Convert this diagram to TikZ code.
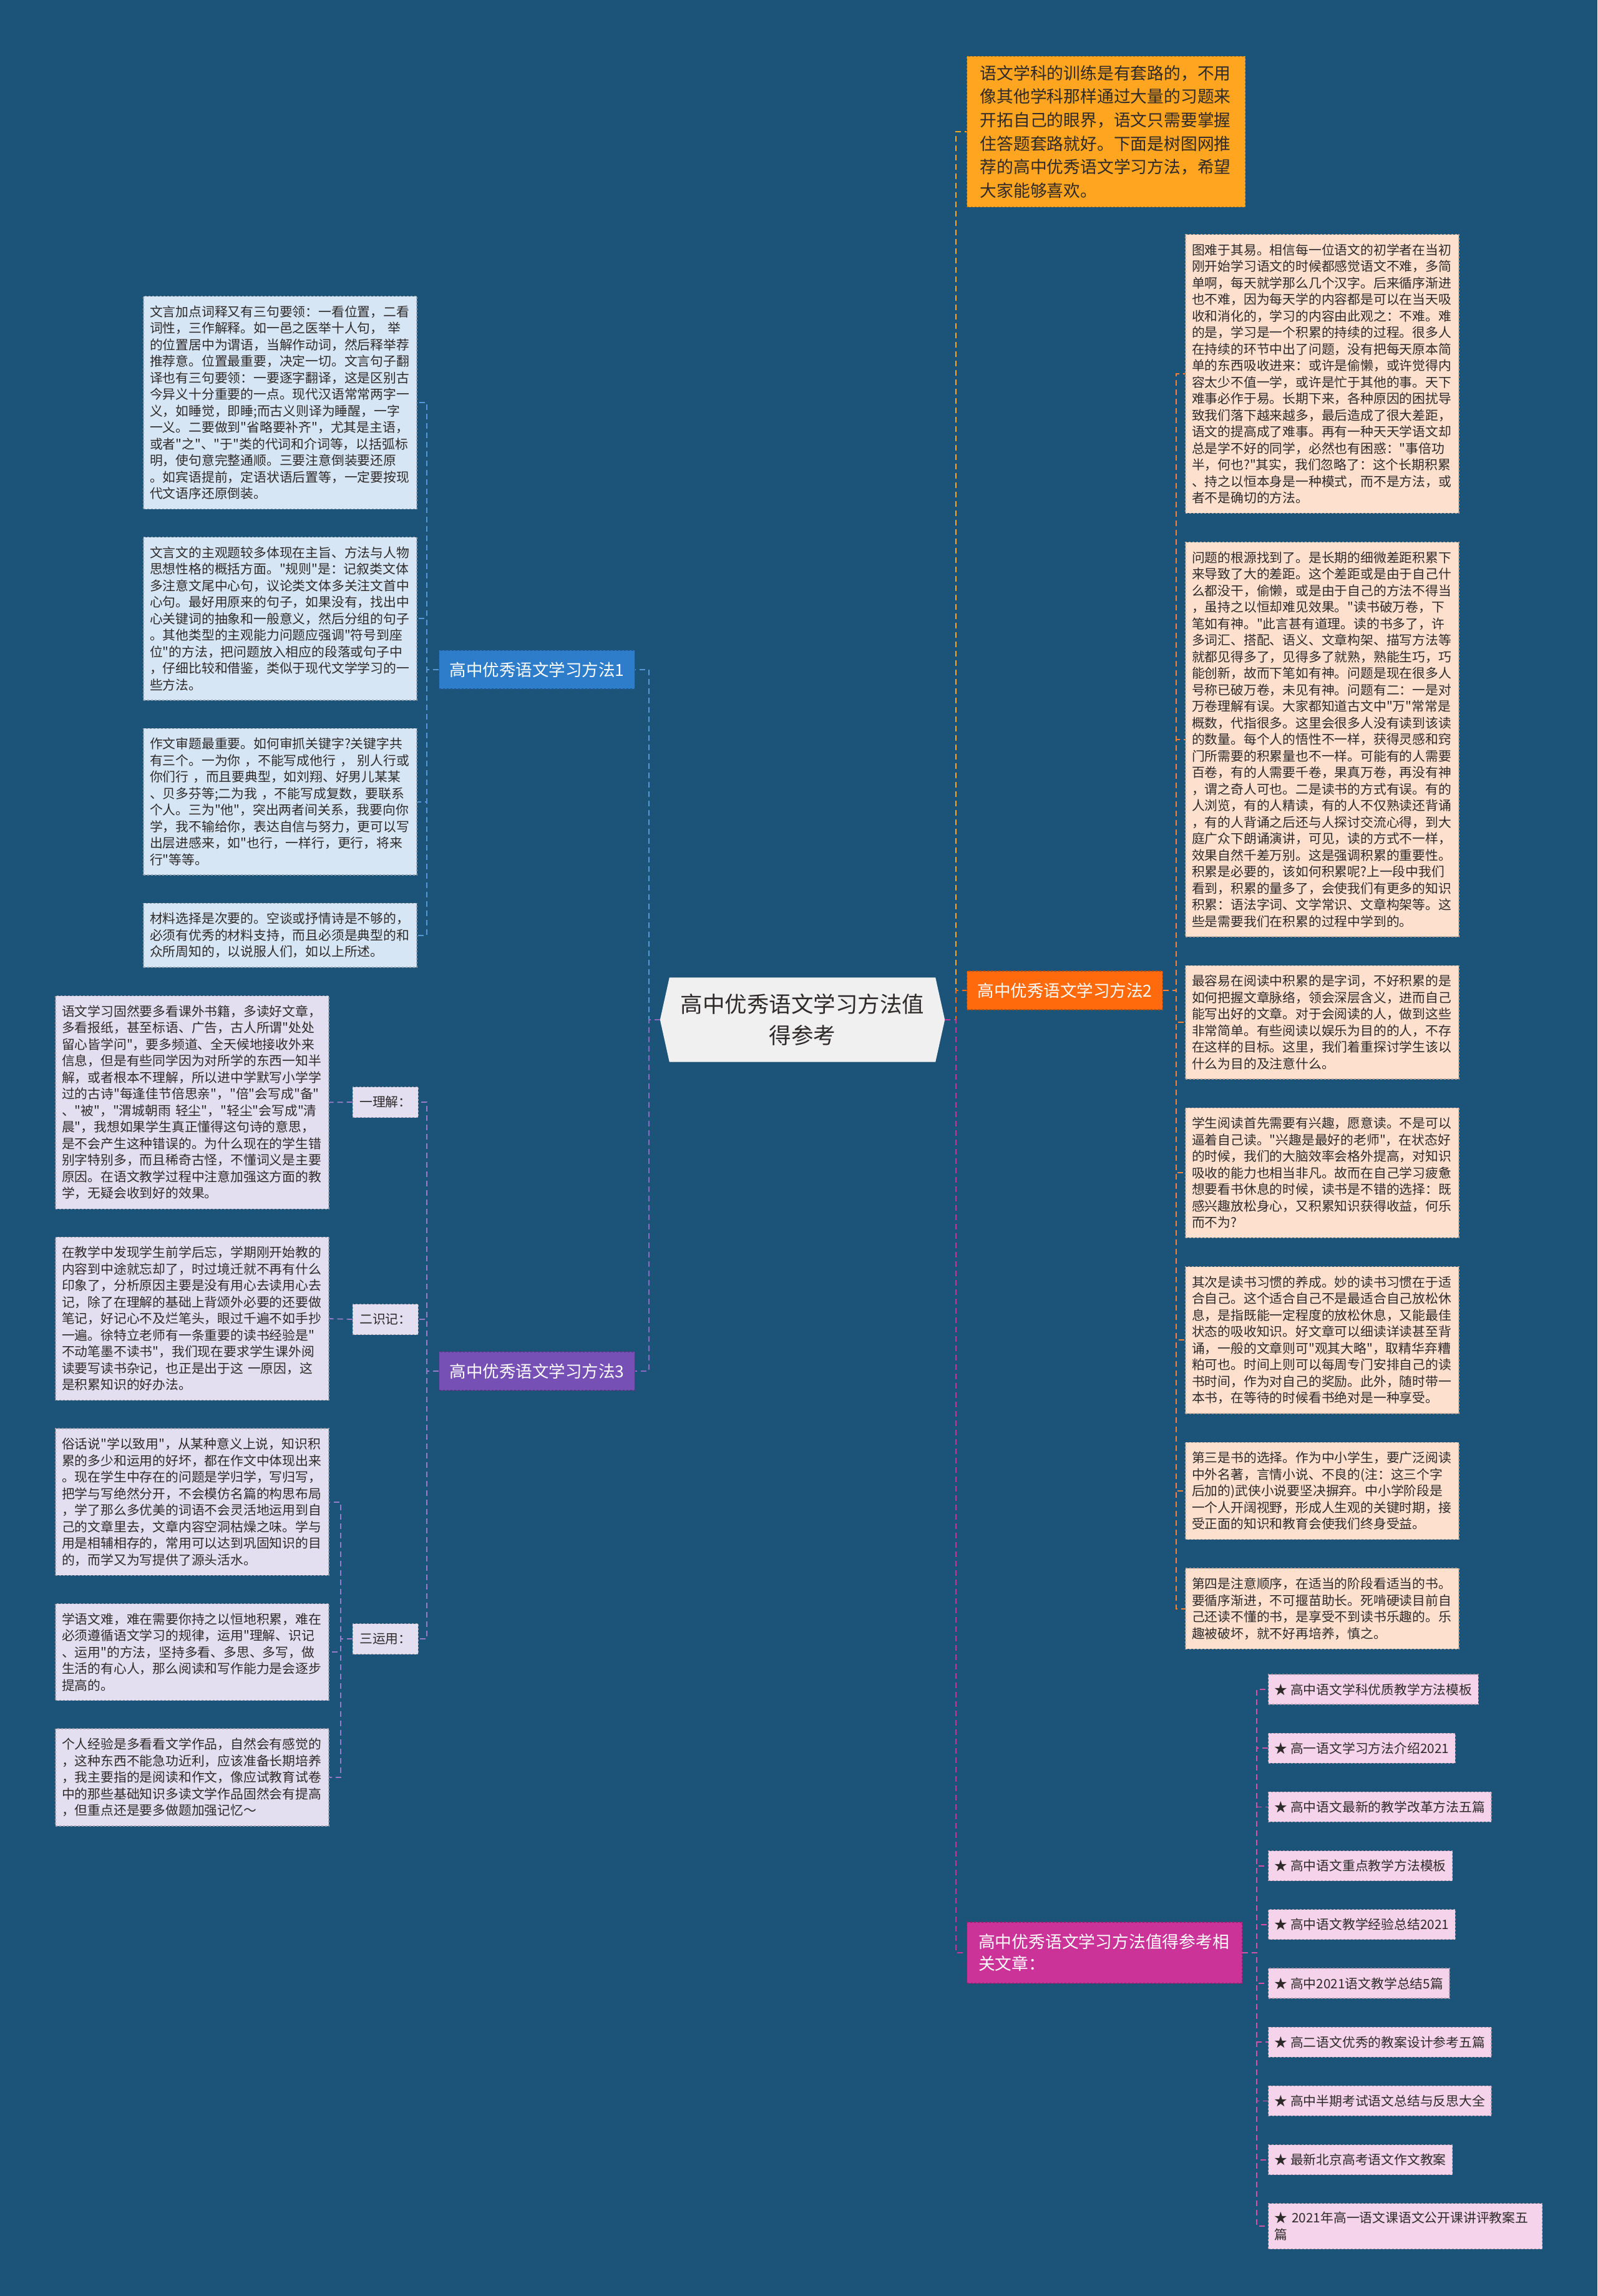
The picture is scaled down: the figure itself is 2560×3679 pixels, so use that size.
\documentclass[tikz,border=0pt]{standalone}
\usepackage{fontspec}
\newfontfamily\cjk{Noto Sans CJK SC}
\usepackage{xcolor}
\usetikzlibrary{positioning, backgrounds}
\definecolor{canvas}{HTML}{1B5478}
\definecolor{rootfill}{HTML}{F0F0F0}
\definecolor{introfill}{HTML}{FFA51F}
\definecolor{wayonefill}{HTML}{2E7DCB}
\definecolor{waytwofill}{HTML}{FF6A0D}
\definecolor{waythreefill}{HTML}{7750B5}
\definecolor{relfill}{HTML}{CC3399}
\definecolor{peachfill}{HTML}{FDE0CE}
\definecolor{bluefill}{HTML}{D7E6F4}
\definecolor{lilacfill}{HTML}{E3DFF0}
\definecolor{pinkfill}{HTML}{F5D3EA}
\definecolor{inkdark}{HTML}{2E2A2A}
\tikzset{
  note/.style={rectangle, dashed, line width=1.2pt, text width=418pt, align=left,
               inner xsep=10pt, inner ysep=15pt, text=inkdark,
               font=\cjk\fontsize{20.8}{26.5}\selectfont},
  peachnote/.style={note, fill=peachfill, draw=peachfill!75!black},
  bluenote/.style={note, fill=bluefill, draw=bluefill!70!black},
  lilacnote/.style={note, fill=lilacfill, draw=lilacfill!70!black},
  tagbox/.style={rectangle, dashed, line width=1.2pt, fill=lilacfill, draw=lilacfill!70!black,
                 inner xsep=11pt, minimum height=49pt, text=inkdark,
                 font=\cjk\fontsize{20.8}{26.5}\selectfont},
  relitem/.style={rectangle, dashed, line width=1.2pt, fill=pinkfill, draw=pinkfill!70!black,
                  inner xsep=10pt, inner ysep=13.5pt, minimum height=48pt, text=inkdark,
                  font=\cjk\fontsize{20.8}{26.5}\selectfont},
  branch/.style={rectangle, dashed, line width=1.2pt, text=white, inner xsep=17pt,
                 minimum height=62pt, font=\cjk\fontsize{26.5}{32}\selectfont},
  rootbox/.style={rectangle, align=center, minimum width=426pt, minimum height=135pt,
                  inner sep=0pt, text=inkdark, font=\cjk\fontsize{35.5}{50}\selectfont},
  introbox/.style={rectangle, dashed, line width=1.2pt, fill=introfill, draw=introfill!70!black,
                   text width=404pt, align=left, inner xsep=21pt, inner ysep=14pt,
                   text=inkdark, font=\cjk\fontsize{26.8}{37.7}\selectfont},
  branchline/.style={dashed, dash pattern=on 9pt off 6pt, line width=2.5pt},
}

\begin{document}
\begin{tikzpicture}[x=1pt, y=-1pt]
  \useasboundingbox (0,0) rectangle (2560,3679);

  %% ---- ROOT ----
  \node[rootbox] (root) at (1286,1634) {高中优秀语文学习方法值\\得参考};
  \coordinate (rootleft) at ([xshift=-15pt]root.west);
  \coordinate (rootright) at ([xshift=15pt]root.east);

  %% ---- RIGHT SIDE ----
  \node[introbox, anchor=west] (intro) at (1549,211) {语文学科的训练是有套路的，不用\\像其他学科那样通过大量的习题来\\开拓自己的眼界，语文只需要掌握\\住答题套路就好。下面是树图网推\\荐的高中优秀语文学习方法，希望\\大家能够喜欢。};
  \node[branch, fill=waytwofill, draw=waytwofill!70!black, anchor=west] (way2) at (1549,1587) {高中优秀语文学习方法2};
  \node[branch, fill=relfill, draw=relfill!70!black, anchor=west, text width=404pt, align=left,
        inner xsep=18.5pt, minimum height=98pt, font=\cjk\fontsize{26.8}{35}\selectfont] (related) at (1549,3129) {高中优秀语文学习方法值得参考相\\关文章：};

  \node[peachnote, anchor=north] (w2a) at (2119,375) {图难于其易。相信每一位语文的初学者在当初\\刚开始学习语文的时候都感觉语文不难，多简\\单啊，每天就学那么几个汉字。后来循序渐进\\也不难，因为每天学的内容都是可以在当天吸\\收和消化的，学习的内容由此观之：不难。难\\的是，学习是一个积累的持续的过程。很多人\\在持续的环节中出了问题，没有把每天原本简\\单的东西吸收进来：或许是偷懒，或许觉得内\\容太少不值一学，或许是忙于其他的事。天下\\难事必作于易。长期下来，各种原因的困扰导\\致我们落下越来越多，最后造成了很大差距，\\语文的提高成了难事。再有一种天天学语文却\\总是学不好的同学，必然也有困惑："事倍功\\半，何也?"其实，我们忽略了：这个长期积累\\、持之以恒本身是一种模式，而不是方法，或\\者不是确切的方法。};
  \node[peachnote, below=45pt of w2a] (w2b) {问题的根源找到了。是长期的细微差距积累下\\来导致了大的差距。这个差距或是由于自己什\\么都没干，偷懒，或是由于自己的方法不得当\\，虽持之以恒却难见效果。"读书破万卷，下\\笔如有神。"此言甚有道理。读的书多了，许\\多词汇、搭配、语义、文章构架、描写方法等\\就都见得多了，见得多了就熟，熟能生巧，巧\\能创新，故而下笔如有神。问题是现在很多人\\号称已破万卷，未见有神。问题有二：一是对\\万卷理解有误。大家都知道古文中"万"常常是\\概数，代指很多。这里会很多人没有读到该读\\的数量。每个人的悟性不一样，获得灵感和窍\\门所需要的积累量也不一样。可能有的人需要\\百卷，有的人需要千卷，果真万卷，再没有神\\，谓之奇人可也。二是读书的方式有误。有的\\人浏览，有的人精读，有的人不仅熟读还背诵\\，有的人背诵之后还与人探讨交流心得，到大\\庭广众下朗诵演讲，可见，读的方式不一样，\\效果自然千差万别。这是强调积累的重要性。\\积累是必要的，该如何积累呢?上一段中我们\\看到，积累的量多了，会使我们有更多的知识\\积累：语法字词、文学常识、文章构架等。这\\些是需要我们在积累的过程中学到的。};
  \node[peachnote, below=45pt of w2b] (w2c) {最容易在阅读中积累的是字词，不好积累的是\\如何把握文章脉络，领会深层含义，进而自己\\能写出好的文章。对于会阅读的人，做到这些\\非常简单。有些阅读以娱乐为目的的人，不存\\在这样的目标。这里，我们着重探讨学生该以\\什么为目的及注意什么。};
  \node[peachnote, below=45pt of w2c] (w2d) {学生阅读首先需要有兴趣，愿意读。不是可以\\逼着自己读。"兴趣是最好的老师"，在状态好\\的时候，我们的大脑效率会格外提高，对知识\\吸收的能力也相当非凡。故而在自己学习疲惫\\想要看书休息的时候，读书是不错的选择：既\\感兴趣放松身心，又积累知识获得收益，何乐\\而不为?};
  \node[peachnote, below=45pt of w2d] (w2e) {其次是读书习惯的养成。妙的读书习惯在于适\\合自己。这个适合自己不是最适合自己放松休\\息，是指既能一定程度的放松休息，又能最佳\\状态的吸收知识。好文章可以细读详读甚至背\\诵，一般的文章则可"观其大略"，取精华弃糟\\粕可也。时间上则可以每周专门安排自己的读\\书时间，作为对自己的奖励。此外，随时带一\\本书，在等待的时候看书绝对是一种享受。};
  \node[peachnote, below=45pt of w2e] (w2f) {第三是书的选择。作为中小学生，要广泛阅读\\中外名著，言情小说、不良的(注：这三个字\\后加的)武侠小说要坚决摒弃。中小学阶段是\\一个人开阔视野，形成人生观的关键时期，接\\受正面的知识和教育会使我们终身受益。};
  \node[peachnote, below=45pt of w2f] (w2g) {第四是注意顺序，在适当的阶段看适当的书。\\要循序渐进，不可揠苗助长。死啃硬读目前自\\己还读不懂的书，是享受不到读书乐趣的。乐\\趣被破坏，就不好再培养，慎之。};

  \node[relitem, anchor=west] (rel1) at (2032,2707) {★ 高中语文学科优质教学方法模板};
  \node[relitem, below=45pt of rel1.south west, anchor=north west] (rel2) {★ 高一语文学习方法介绍2021};
  \node[relitem, below=45pt of rel2.south west, anchor=north west] (rel3) {★ 高中语文最新的教学改革方法五篇};
  \node[relitem, below=45pt of rel3.south west, anchor=north west] (rel4) {★ 高中语文重点教学方法模板};
  \node[relitem, below=45pt of rel4.south west, anchor=north west] (rel5) {★ 高中语文教学经验总结2021};
  \node[relitem, below=45pt of rel5.south west, anchor=north west] (rel6) {★ 高中2021语文教学总结5篇};
  \node[relitem, below=45pt of rel6.south west, anchor=north west] (rel7) {★ 高二语文优秀的教案设计参考五篇};
  \node[relitem, below=45pt of rel7.south west, anchor=north west] (rel8) {★ 高中半期考试语文总结与反思大全};
  \node[relitem, below=45pt of rel8.south west, anchor=north west] (rel9) {★ 最新北京高考语文作文教案};
  \node[relitem, below=45pt of rel9.south west, anchor=north west, text width=419pt, align=left] (rel10) {★ 2021年高一语文课语文公开课讲评教案五\\篇};

  %% ---- LEFT SIDE ----
  \node[branch, fill=wayonefill, draw=wayonefill!70!black, anchor=east] (way1) at (1018,1073) {高中优秀语文学习方法1};
  \node[branch, fill=waythreefill, draw=waythreefill!70!black, anchor=east] (way3) at (1018,2197) {高中优秀语文学习方法3};

  \node[bluenote, anchor=north] (w1a) at (449,474) {文言加点词释又有三句要领：一看位置，二看\\词性，三作解释。如一邑之医举十人句， 举\\的位置居中为谓语，当解作动词，然后释举荐\\推荐意。位置最重要，决定一切。文言句子翻\\译也有三句要领：一要逐字翻译，这是区别古\\今异义十分重要的一点。现代汉语常常两字一\\义，如睡觉，即睡;而古义则译为睡醒，一字\\一义。二要做到"省略要补齐"，尤其是主语，\\或者"之"、"于"类的代词和介词等，以括弧标\\明，使句意完整通顺。三要注意倒装要还原\\。如宾语提前，定语状语后置等，一定要按现\\代文语序还原倒装。};
  \node[bluenote, below=44pt of w1a] (w1b) {文言文的主观题较多体现在主旨、方法与人物\\思想性格的概括方面。"规则"是：记叙类文体\\多注意文尾中心句，议论类文体多关注文首中\\心句。最好用原来的句子，如果没有，找出中\\心关键词的抽象和一般意义，然后分组的句子\\。其他类型的主观能力问题应强调"符号到座\\位"的方法，把问题放入相应的段落或句子中\\，仔细比较和借鉴，类似于现代文学学习的一\\些方法。};
  \node[bluenote, below=44pt of w1b] (w1c) {作文审题最重要。如何审抓关键字?关键字共\\有三个。一为你 ，不能写成他行 ， 别人行或\\你们行 ，而且要典型，如刘翔、好男儿某某\\、贝多芬等;二为我 ，不能写成复数，要联系\\个人。三为"他"，突出两者间关系，我要向你\\学，我不输给你，表达自信与努力，更可以写\\出层进感来，如"也行，一样行，更行，将来\\行"等等。};
  \node[bluenote, below=44pt of w1c] (w1d) {材料选择是次要的。空谈或抒情诗是不够的，\\必须有优秀的材料支持，而且必须是典型的和\\众所周知的，以说服人们，如以上所述。};

  \node[tagbox, anchor=east] (understand) at (671,1766) {一理解：};
  \node[tagbox, anchor=east] (remember) at (671,2114) {二识记：};
  \node[tagbox, anchor=east] (apply) at (671,2626) {三运用：};

  \node[lilacnote, anchor=north] (u1) at (308,1595) {语文学习固然要多看课外书籍，多读好文章，\\多看报纸，甚至标语、广告，古人所谓"处处\\留心皆学问"，要多频道、全天候地接收外来\\信息，但是有些同学因为对所学的东西一知半\\解，或者根本不理解，所以进中学默写小学学\\过的古诗"每逢佳节倍思亲"，"倍"会写成"备"\\、"被"，"渭城朝雨 轻尘"，"轻尘"会写成"清\\晨"，我想如果学生真正懂得这句诗的意思，\\是不会产生这种错误的。为什么现在的学生错\\别字特别多，而且稀奇古怪，不懂词义是主要\\原因。在语文教学过程中注意加强这方面的教\\学，无疑会收到好的效果。};
  \node[lilacnote, below=44pt of u1] (r1) {在教学中发现学生前学后忘，学期刚开始教的\\内容到中途就忘却了，时过境迁就不再有什么\\印象了，分析原因主要是没有用心去读用心去\\记，除了在理解的基础上背颂外必要的还要做\\笔记，好记心不及烂笔头，眼过千遍不如手抄\\一遍。徐特立老师有一条重要的读书经验是"\\不动笔墨不读书"，我们现在要求学生课外阅\\读要写读书杂记，也正是出于这 一原因，这\\是积累知识的好办法。};
  \node[lilacnote, below=44pt of r1] (a1) {俗话说"学以致用"，从某种意义上说，知识积\\累的多少和运用的好坏，都在作文中体现出来\\。现在学生中存在的问题是学归学，写归写，\\把学与写绝然分开，不会模仿名篇的构思布局\\，学了那么多优美的词语不会灵活地运用到自\\己的文章里去，文章内容空洞枯燥之味。学与\\用是相辅相存的，常用可以达到巩固知识的目\\的，而学又为写提供了源头活水。};
  \node[lilacnote, below=44pt of a1] (a2) {学语文难，难在需要你持之以恒地积累，难在\\必须遵循语文学习的规律，运用"理解、识记\\、运用"的方法，坚持多看、多思、多写，做\\生活的有心人，那么阅读和写作能力是会逐步\\提高的。};
  \node[lilacnote, below=44pt of a2] (a3) {个人经验是多看看文学作品，自然会有感觉的\\，这种东西不能急功近利，应该准备长期培养\\，我主要指的是阅读和作文，像应试教育试卷\\中的那些基础知识多读文学作品固然会有提高\\，但重点还是要多做题加强记忆～};

  %% ---- CONNECTORS ----
  \draw[branchline, draw=introfill] (rootright) -- ++(18,0) |- (intro.west);
  \draw[branchline, draw=waytwofill] (rootright) -- ++(18,0) |- (way2.west);
  \draw[branchline, draw=relfill] (rootright) -- ++(18,0) |- (related.west);
  \draw[branchline, draw=wayonefill!80!white] (rootleft) -- ++(-18,0) |- (way1.east);
  \draw[branchline, draw=waythreefill!85!white] (rootleft) -- ++(-18,0) |- (way3.east);

  \foreach \kid in {w2a,w2b,w2c,w2d,w2e,w2f,w2g}
    \draw[branchline, line width=1.8pt, draw=waytwofill!80!peachfill] (way2.east) -- ++(21,0) |- (\kid.west);
  \foreach \kid in {rel1,rel2,rel3,rel4,rel5,rel6,rel7,rel8,rel9,rel10}
    \draw[branchline, line width=1.8pt, draw=relfill!85!white] (related.east) -- ++(23,0) |- (\kid.west);
  \foreach \kid in {w1a,w1b,w1c,w1d}
    \draw[branchline, line width=1.8pt, draw=wayonefill!80!white] (way1.west) -- ++(-19,0) |- (\kid.east);
  \foreach \kid in {understand,remember,apply}
    \draw[branchline, line width=1.8pt, draw=waythreefill!75!white] (way3.west) -- ++(-19,0) |- (\kid.east);
  \draw[branchline, line width=1.8pt, draw=waythreefill!75!white] (understand.west) -- (u1.east);
  \draw[branchline, line width=1.8pt, draw=waythreefill!75!white] (remember.west) -- (r1.east);
  \foreach \kid in {a1,a2,a3}
    \draw[branchline, line width=1.8pt, draw=waythreefill!75!white] (apply.west) -- ++(-19,0) |- (\kid.east);

  %% ---- BACKDROP ----
  \begin{scope}[on background layer]
    \fill[canvas] (0,0) rectangle (2560,3679);
    \fill[rootfill] (root.north west) -- (root.north east) -- (rootright) -- (root.south east)
      -- (root.south west) -- (rootleft) -- cycle;
  \end{scope}

\end{tikzpicture}
\end{document}
